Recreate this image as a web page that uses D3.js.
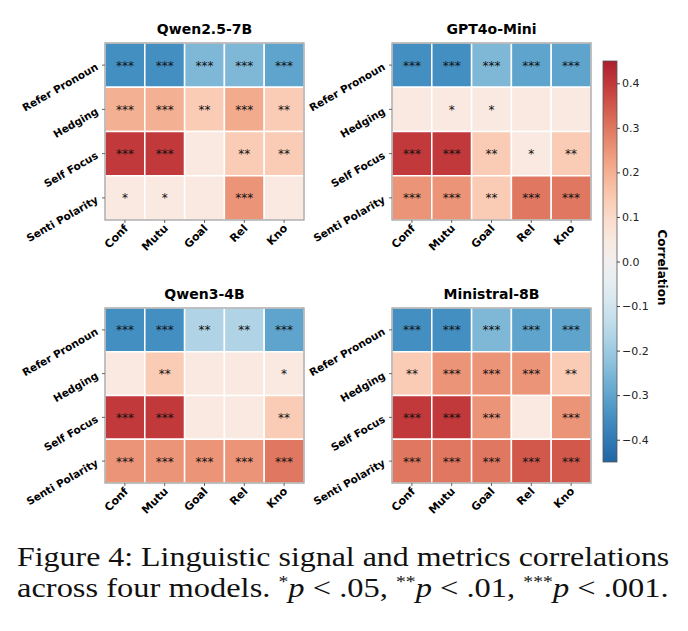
<!DOCTYPE html>
<html>
<head>
<meta charset="utf-8">
<script src="https://cdn.jsdelivr.net/npm/d3@7"></script>
<style>
  body { margin: 0; background: #fff; }
  svg text { font-family: "DejaVu Sans", sans-serif; }
</style>
</head>
<body>
<div id="chart"></div>
<script>
// rows / columns shared by all four panels
const signals = ['Refer Pronoun', 'Hedging', 'Self Focus', 'Senti Polarity'];
const metrics = ['Conf', 'Mutu', 'Goal', 'Rel', 'Kno'];
const models = ['Qwen2.5-7B', 'GPT4o-Mini', 'Qwen3-4B', 'Ministral-8B'];

// correlation values, one row per signal
const qwen25Values = [
    [-0.35, -0.35, -0.25, -0.25, -0.30],
    [0.20, 0.20, 0.14, 0.21, 0.14],
    [0.40, 0.40, 0.05, 0.14, 0.14],
    [0.05, 0.05, 0.05, 0.25, 0.05]
];
const gpt4oValues = [
    [-0.35, -0.35, -0.25, -0.30, -0.30],
    [0.05, 0.05, 0.05, 0.05, 0.05],
    [0.40, 0.40, 0.14, 0.05, 0.14],
    [0.25, 0.25, 0.14, 0.30, 0.30]
];
const qwen3Values = [
    [-0.35, -0.35, -0.17, -0.17, -0.30],
    [0.05, 0.14, 0.05, 0.05, 0.05],
    [0.40, 0.40, 0.05, 0.05, 0.14],
    [0.25, 0.25, 0.25, 0.25, 0.30]
];
const ministralValues = [
    [-0.35, -0.35, -0.25, -0.30, -0.30],
    [0.14, 0.25, 0.25, 0.25, 0.14],
    [0.40, 0.40, 0.25, 0.05, 0.25],
    [0.30, 0.30, 0.30, 0.35, 0.35]
];

// significance stars, same layout
const qwen25Stars = [
    ['***', '***', '***', '***', '***'],
    ['***', '***', '**', '***', '**'],
    ['***', '***', '', '**', '**'],
    ['*', '*', '', '***', '']
];
const gpt4oStars = [
    ['***', '***', '***', '***', '***'],
    ['', '*', '*', '', ''],
    ['***', '***', '**', '*', '**'],
    ['***', '***', '**', '***', '***']
];
const qwen3Stars = [
    ['***', '***', '**', '**', '***'],
    ['', '**', '', '', '*'],
    ['***', '***', '', '', '**'],
    ['***', '***', '***', '***', '***']
];
const ministralStars = [
    ['***', '***', '***', '***', '***'],
    ['**', '***', '***', '***', '**'],
    ['***', '***', '***', '', '***'],
    ['***', '***', '***', '***', '***']
];

const colorTicks = [0.4, 0.3, 0.2, 0.1, 0.0, -0.1, -0.2, -0.3, -0.4];

const width = 688;
const height = 631;

const svg = d3.select('#chart')
    .append('svg')
    .attr('width', width)
    .attr('height', height);

// RdBu_r, trimmed so that the ends match the colorbar in the figure
const vmax = 0.45;
const color = v => d3.interpolateRdBu(0.5 - (v / vmax) * 0.4);

const panels = [
    { name: models[0], values: qwen25Values, stars: qwen25Stars, x: 105, y: 43, h: 177 },
    { name: models[1], values: gpt4oValues, stars: gpt4oStars, x: 392, y: 43, h: 177 },
    { name: models[2], values: qwen3Values, stars: qwen3Stars, x: 105, y: 308, h: 175 },
    { name: models[3], values: ministralValues, stars: ministralStars, x: 392, y: 308, h: 175 }
];
const panelW = 199;

panels.forEach(p => {
    const g = svg.append('g').attr('transform', `translate(${p.x},${p.y})`);

    const x = d3.scaleBand().domain(metrics).range([0, panelW]);
    const y = d3.scaleBand().domain(signals).range([0, p.h]);

    const cells = [];
    signals.forEach((s, i) => metrics.forEach((m, j) => {
        cells.push({ s, m, v: p.values[i][j], star: p.stars[i][j] });
    }));

    g.selectAll('rect.cell')
        .data(cells)
        .join('rect')
        .attr('class', 'cell')
        .attr('x', d => x(d.m))
        .attr('y', d => y(d.s))
        .attr('width', x.bandwidth())
        .attr('height', y.bandwidth())
        .attr('fill', d => color(d.v))
        .attr('stroke', '#fff')
        .attr('stroke-width', 1.5);

    g.selectAll('text.star')
        .data(cells.filter(d => d.star))
        .join('text')
        .attr('class', 'star')
        .attr('x', d => x(d.m) + x.bandwidth() / 2)
        .attr('y', d => y(d.s) + y.bandwidth() / 2 + 4.5)
        .attr('text-anchor', 'middle')
        .attr('font-size', 12)
        .attr('fill', '#111')
        .text(d => d.star);

    // frame
    g.append('rect')
        .attr('width', panelW)
        .attr('height', p.h)
        .attr('fill', 'none')
        .attr('stroke', '#999')
        .attr('stroke-width', 1.2);

    // y ticks + rotated labels
    signals.forEach(s => {
        const cy = y(s) + y.bandwidth() / 2;
        g.append('line')
            .attr('x1', -3).attr('x2', 0)
            .attr('y1', cy).attr('y2', cy)
            .attr('stroke', '#666');
        g.append('text')
            .attr('transform', `translate(-6,${cy + 4}) rotate(-30)`)
            .attr('text-anchor', 'end')
            .attr('font-size', 10.5)
            .attr('font-weight', 'bold')
            .text(s);
    });

    // x ticks + rotated labels
    metrics.forEach(m => {
        const cx = x(m) + x.bandwidth() / 2;
        g.append('line')
            .attr('x1', cx).attr('x2', cx)
            .attr('y1', p.h).attr('y2', p.h + 3)
            .attr('stroke', '#666');
        g.append('text')
            .attr('transform', `translate(${cx + 4},${p.h + 9}) rotate(-45)`)
            .attr('text-anchor', 'end')
            .attr('font-size', 11)
            .attr('font-weight', 'bold')
            .text(m);
    });

    g.append('text')
        .attr('x', panelW / 2)
        .attr('y', -9)
        .attr('text-anchor', 'middle')
        .attr('font-size', 14)
        .attr('font-weight', 'bold')
        .text(p.name);
});

// colorbar
const cbX = 603, cbW = 14, cbTop = 61, cbBottom = 462;
const cbScale = d3.scaleLinear().domain([vmax, -vmax]).range([cbTop, cbBottom]);

const defs = svg.append('defs');
const grad = defs.append('linearGradient')
    .attr('id', 'cbGrad')
    .attr('x1', 0).attr('y1', 0).attr('x2', 0).attr('y2', 1);
d3.range(0, 1.0001, 0.05).forEach(t => {
    grad.append('stop')
        .attr('offset', t)
        .attr('stop-color', color(vmax - t * 2 * vmax));
});

svg.append('rect')
    .attr('x', cbX).attr('y', cbTop)
    .attr('width', cbW).attr('height', cbBottom - cbTop)
    .attr('fill', 'url(#cbGrad)')
    .attr('stroke', '#555')
    .attr('stroke-width', 0.8);

const cbAxis = d3.axisRight(cbScale)
    .tickValues(colorTicks)
    .tickSize(3)
    .tickPadding(2)
    .tickFormat(d => d3.format('.1f')(d).replace('-', '\u2212'));

svg.append('g')
    .attr('transform', `translate(${cbX + cbW},0)`)
    .call(cbAxis)
    .call(a => a.select('.domain').remove())
    .call(a => a.selectAll('text')
        .attr('font-size', 11)
        .attr('font-family', '"DejaVu Sans", sans-serif')
        .attr('fill', '#222'))
    .call(a => a.selectAll('line').attr('stroke', '#444'));

svg.append('text')
    .attr('transform', `translate(658,${(cbTop + cbBottom) / 2 + 6}) rotate(90)`)
    .attr('text-anchor', 'middle')
    .attr('font-size', 12)
    .attr('font-weight', 'bold')
    .text('Correlation');

// caption (Liberation Serif is narrower than the original, so stretch it sideways)
const cap = svg.append('g')
    .attr('font-size', 28)
    .attr('fill', '#111');

cap.append('text')
    .attr('transform', 'translate(17,566) scale(1.14,1)')
    .style('font-family', '"Liberation Serif", serif')
    .text('Figure 4: Linguistic signal and metrics correlations');

const line2 = cap.append('text')
    .attr('transform', 'translate(17,597) scale(1.16,1)')
    .style('font-family', '"Liberation Serif", serif');
line2.append('tspan').text('across four models. ');
[['*', '.05, '], ['**', '.01, '], ['***', '.001.']].forEach(([s, v]) => {
    line2.append('tspan').attr('font-size', 17).attr('dy', -10).text(s);
    line2.append('tspan').attr('font-style', 'italic').attr('font-size', 28).attr('dy', 10).text('p');
    line2.append('tspan').text(' < ' + v);
});
</script>
</body>
</html>
